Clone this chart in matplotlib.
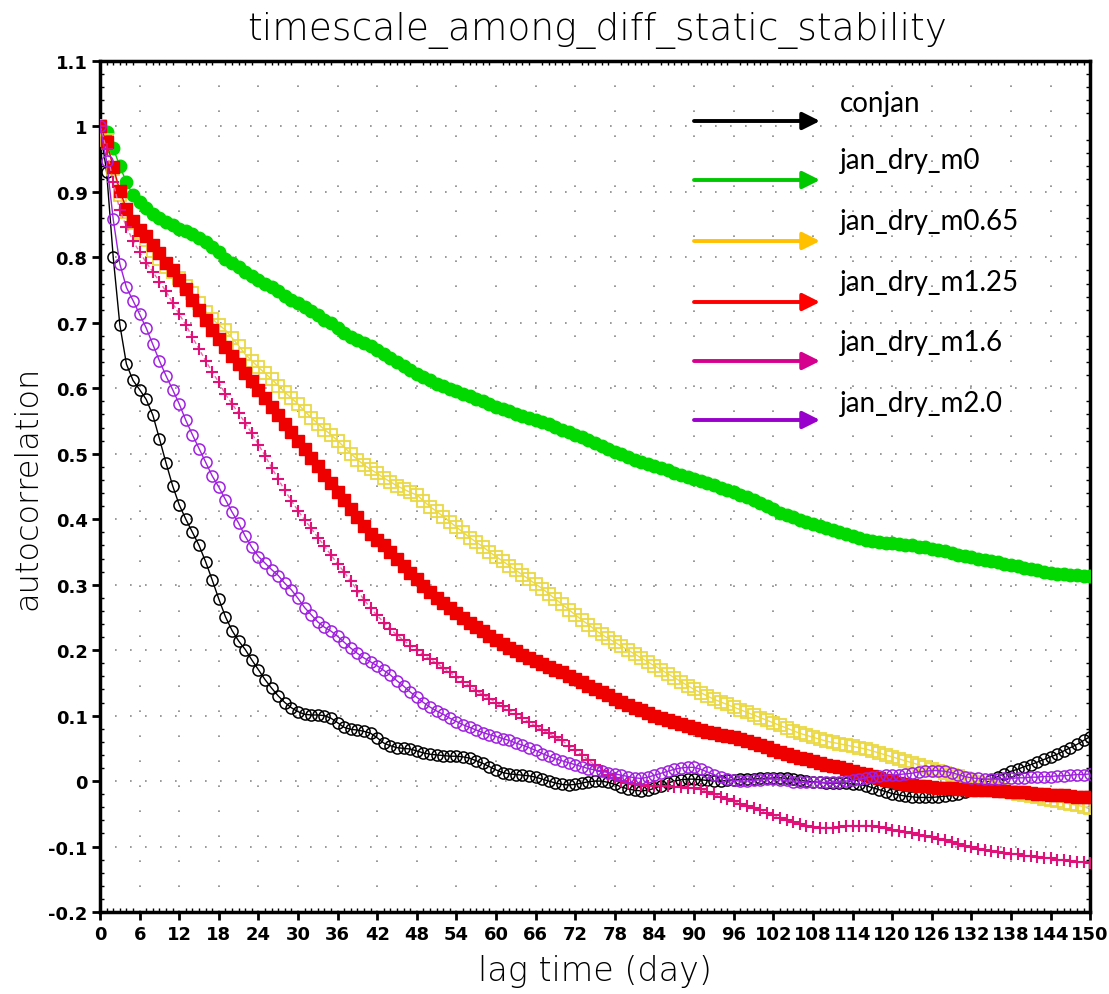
import matplotlib
matplotlib.use("Agg")
import matplotlib.pyplot as plt
import numpy as np

# lag time (day) 0..150
days = list(range(151))

conjan = [1.000, 0.930, 0.800, 0.697, 0.637, 0.612, 0.598, 0.583, 0.559, 0.523,
          0.486, 0.451, 0.422, 0.400, 0.380, 0.360, 0.335, 0.307, 0.278, 0.251,
          0.230, 0.214, 0.201, 0.185, 0.170, 0.155, 0.142, 0.130, 0.120, 0.112,
          0.106, 0.102, 0.101, 0.101, 0.100, 0.096, 0.089, 0.082, 0.079, 0.078,
          0.076, 0.073, 0.066, 0.058, 0.054, 0.051, 0.050, 0.049, 0.046, 0.043,
          0.041, 0.040, 0.039, 0.038, 0.038, 0.037, 0.035, 0.031, 0.027, 0.022,
          0.017, 0.013, 0.011, 0.010, 0.009, 0.008, 0.006, 0.003, 0.000, -0.003,
          -0.005, -0.006, -0.005, -0.003, -0.001, 0.000, 0.000, -0.002, -0.005, -0.009,
          -0.012, -0.014, -0.015, -0.014, -0.011, -0.007, -0.003, 0.000, 0.002, 0.003,
          0.003, 0.002, 0.001, 0.000, 0.000, 0.001, 0.002, 0.003, 0.003, 0.003,
          0.004, 0.004, 0.005, 0.005, 0.004, 0.003, 0.001, 0.000, -0.001, -0.002,
          -0.003, -0.003, -0.003, -0.003, -0.004, -0.005, -0.007, -0.010, -0.013, -0.016,
          -0.019, -0.021, -0.023, -0.024, -0.025, -0.025, -0.025, -0.024, -0.023, -0.022,
          -0.020, -0.017, -0.013, -0.008, -0.003, 0.002, 0.007, 0.011, 0.015, 0.018,
          0.022, 0.025, 0.029, 0.033, 0.037, 0.041, 0.046, 0.051, 0.056, 0.062,
          0.068]

jan_dry_m0 = [1.000, 0.992, 0.967, 0.939, 0.915, 0.895, 0.884, 0.875, 0.866, 0.860,
              0.854, 0.849, 0.844, 0.841, 0.836, 0.829, 0.823, 0.816, 0.808, 0.798,
              0.791, 0.785, 0.778, 0.772, 0.766, 0.760, 0.754, 0.748, 0.741, 0.735,
              0.730, 0.724, 0.718, 0.712, 0.705, 0.699, 0.692, 0.685, 0.679, 0.674,
              0.669, 0.664, 0.659, 0.652, 0.646, 0.640, 0.634, 0.628, 0.622, 0.617,
              0.612, 0.607, 0.603, 0.599, 0.596, 0.592, 0.588, 0.584, 0.580, 0.576,
              0.572, 0.568, 0.565, 0.561, 0.558, 0.555, 0.552, 0.549, 0.545, 0.541,
              0.537, 0.533, 0.529, 0.525, 0.521, 0.516, 0.512, 0.507, 0.503, 0.499,
              0.495, 0.491, 0.488, 0.484, 0.481, 0.478, 0.475, 0.471, 0.468, 0.465,
              0.462, 0.459, 0.455, 0.452, 0.448, 0.444, 0.441, 0.437, 0.434, 0.430,
              0.425, 0.420, 0.415, 0.410, 0.407, 0.403, 0.399, 0.396, 0.393, 0.390,
              0.387, 0.384, 0.381, 0.378, 0.375, 0.372, 0.369, 0.367, 0.365, 0.364,
              0.363, 0.362, 0.361, 0.360, 0.358, 0.357, 0.355, 0.353, 0.351, 0.348,
              0.346, 0.344, 0.342, 0.340, 0.338, 0.336, 0.334, 0.332, 0.330, 0.328,
              0.326, 0.324, 0.322, 0.320, 0.318, 0.317, 0.316, 0.315, 0.315, 0.314,
              0.313]

jan_dry_m065 = [1.000, 0.980, 0.935, 0.895, 0.869, 0.852, 0.838, 0.826, 0.810, 0.797,
                0.786, 0.778, 0.768, 0.757, 0.745, 0.730, 0.717, 0.706, 0.697, 0.689,
                0.677, 0.665, 0.652, 0.642, 0.632, 0.623, 0.614, 0.604, 0.594, 0.585,
                0.576, 0.565, 0.555, 0.546, 0.537, 0.529, 0.520, 0.510, 0.500, 0.491,
                0.483, 0.476, 0.470, 0.463, 0.457, 0.451, 0.446, 0.441, 0.437, 0.428,
                0.419, 0.412, 0.404, 0.396, 0.388, 0.380, 0.372, 0.365, 0.358, 0.350,
                0.343, 0.336, 0.329, 0.322, 0.315, 0.308, 0.301, 0.294, 0.286, 0.278,
                0.270, 0.262, 0.254, 0.246, 0.239, 0.231, 0.224, 0.218, 0.212, 0.206,
                0.200, 0.194, 0.188, 0.182, 0.176, 0.170, 0.164, 0.158, 0.152, 0.146,
                0.140, 0.135, 0.130, 0.125, 0.121, 0.117, 0.113, 0.109, 0.105, 0.101,
                0.097, 0.093, 0.089, 0.085, 0.081, 0.077, 0.073, 0.070, 0.067, 0.064,
                0.061, 0.059, 0.057, 0.055, 0.053, 0.051, 0.049, 0.046, 0.043, 0.040,
                0.037, 0.034, 0.031, 0.028, 0.025, 0.022, 0.019, 0.016, 0.013, 0.010,
                0.008, 0.005, 0.002, -0.001, -0.004, -0.007, -0.010, -0.013, -0.016, -0.019,
                -0.021, -0.023, -0.025, -0.027, -0.029, -0.031, -0.033, -0.035, -0.037, -0.039,
                -0.041]

jan_dry_m125 = [1.000, 0.976, 0.938, 0.902, 0.874, 0.856, 0.842, 0.832, 0.819, 0.807,
                0.792, 0.780, 0.765, 0.751, 0.735, 0.720, 0.705, 0.689, 0.676, 0.663,
                0.650, 0.637, 0.624, 0.611, 0.598, 0.585, 0.572, 0.559, 0.546, 0.533,
                0.520, 0.507, 0.494, 0.481, 0.468, 0.455, 0.442, 0.429, 0.416, 0.403,
                0.390, 0.378, 0.369, 0.360, 0.350, 0.340, 0.329, 0.318, 0.308, 0.298,
                0.289, 0.280, 0.272, 0.264, 0.256, 0.249, 0.242, 0.235, 0.229, 0.222,
                0.216, 0.210, 0.204, 0.198, 0.193, 0.188, 0.183, 0.179, 0.175, 0.170,
                0.166, 0.161, 0.156, 0.151, 0.146, 0.141, 0.136, 0.131, 0.126, 0.121,
                0.116, 0.112, 0.108, 0.104, 0.100, 0.096, 0.093, 0.090, 0.087, 0.084,
                0.081, 0.078, 0.075, 0.073, 0.071, 0.069, 0.067, 0.064, 0.061, 0.058,
                0.055, 0.052, 0.048, 0.045, 0.042, 0.039, 0.036, 0.033, 0.030, 0.028,
                0.025, 0.023, 0.021, 0.019, 0.016, 0.013, 0.011, 0.008, 0.005, 0.002,
                0.000, -0.003, -0.005, -0.006, -0.007, -0.008, -0.009, -0.010, -0.011, -0.011,
                -0.012, -0.012, -0.013, -0.013, -0.014, -0.014, -0.015, -0.015, -0.016, -0.017,
                -0.017, -0.018, -0.019, -0.020, -0.021, -0.022, -0.022, -0.023, -0.024, -0.025,
                -0.025]

jan_dry_m16 = [1.000, 0.965, 0.915, 0.872, 0.847, 0.825, 0.808, 0.792, 0.778, 0.763,
               0.748, 0.730, 0.713, 0.697, 0.678, 0.660, 0.642, 0.625, 0.609, 0.591,
               0.576, 0.562, 0.547, 0.531, 0.514, 0.497, 0.479, 0.461, 0.444, 0.428,
               0.413, 0.399, 0.386, 0.372, 0.359, 0.345, 0.332, 0.319, 0.305, 0.291,
               0.277, 0.264, 0.253, 0.242, 0.232, 0.223, 0.215, 0.207, 0.200, 0.193,
               0.186, 0.180, 0.173, 0.166, 0.159, 0.152, 0.145, 0.138, 0.132, 0.126,
               0.120, 0.114, 0.108, 0.102, 0.096, 0.090, 0.084, 0.078, 0.073, 0.067,
               0.062, 0.054, 0.047, 0.040, 0.032, 0.024, 0.016, 0.009, 0.004, 0.000,
               -0.003, -0.005, -0.006, -0.007, -0.007, -0.008, -0.008, -0.009, -0.009, -0.010,
               -0.010, -0.012, -0.016, -0.020, -0.024, -0.027, -0.031, -0.035, -0.038, -0.041,
               -0.044, -0.048, -0.052, -0.056, -0.059, -0.062, -0.065, -0.068, -0.070, -0.071,
               -0.071, -0.071, -0.070, -0.069, -0.069, -0.068, -0.068, -0.069, -0.070, -0.072,
               -0.074, -0.076, -0.078, -0.080, -0.082, -0.084, -0.086, -0.088, -0.090, -0.093,
               -0.096, -0.099, -0.101, -0.103, -0.105, -0.107, -0.108, -0.110, -0.111, -0.112,
               -0.114, -0.115, -0.116, -0.117, -0.118, -0.120, -0.121, -0.122, -0.123, -0.124,
               -0.125]

jan_dry_m20 = [1.000, 0.947, 0.858, 0.790, 0.754, 0.734, 0.713, 0.692, 0.667, 0.642,
               0.619, 0.598, 0.576, 0.551, 0.529, 0.508, 0.487, 0.466, 0.449, 0.430,
               0.411, 0.394, 0.374, 0.357, 0.343, 0.333, 0.323, 0.314, 0.302, 0.292,
               0.279, 0.265, 0.254, 0.243, 0.235, 0.229, 0.221, 0.212, 0.203, 0.195,
               0.188, 0.182, 0.176, 0.169, 0.162, 0.153, 0.145, 0.136, 0.128, 0.120,
               0.113, 0.107, 0.102, 0.096, 0.091, 0.086, 0.082, 0.078, 0.074, 0.071,
               0.068, 0.065, 0.062, 0.058, 0.055, 0.051, 0.047, 0.042, 0.038, 0.034,
               0.031, 0.028, 0.025, 0.022, 0.019, 0.017, 0.015, 0.013, 0.011, 0.009,
               0.007, 0.005, 0.004, 0.006, 0.009, 0.012, 0.015, 0.018, 0.020, 0.021,
               0.021, 0.018, 0.014, 0.010, 0.006, 0.003, 0.001, 0.000, 0.000, 0.001,
               0.002, 0.003, 0.003, 0.002, 0.001, -0.001, -0.002, -0.002, -0.002, -0.002,
               -0.002, -0.002, -0.001, 0.000, 0.001, 0.003, 0.005, 0.007, 0.008, 0.009,
               0.009, 0.010, 0.011, 0.012, 0.014, 0.015, 0.016, 0.016, 0.015, 0.013,
               0.010, 0.007, 0.005, 0.004, 0.003, 0.003, 0.003, 0.004, 0.004, 0.005,
               0.005, 0.006, 0.006, 0.007, 0.007, 0.008, 0.008, 0.009, 0.010, 0.010,
               0.011]

labels = ["conjan", "jan_dry_m0", "jan_dry_m0.65", "jan_dry_m1.25", "jan_dry_m1.6", "jan_dry_m2.0"]
legend_colors = ["#000000", "#00C800", "#FFC000", "#FF0000", "#D6008F", "#9900CC"]

fig = plt.figure(figsize=(11.09, 9.95), dpi=100)
ax = fig.add_axes([0.0902, 0.0824, 0.8928, 0.8553])

# series: marker style per experiment
ax.plot(days, conjan, color="black", lw=1.0, marker="o", ms=8, mfc="none", mec="black", mew=1.1, zorder=3)
ax.plot(days, jan_dry_m0, color="#00D000", lw=1.0, marker="o", ms=9, mfc="#00D800", mec="#00D800", zorder=4)
ax.plot(days, jan_dry_m065, color="#EBD842", lw=1.0, marker="s", ms=9, mfc="none", mec="#EBD842", mew=1.3, zorder=5)
ax.plot(days, jan_dry_m125, color="#EE0000", lw=1.0, marker="s", ms=8.5, mfc="#EE0000", mec="#EE0000", zorder=6)
ax.plot(days, jan_dry_m16, color="#EE6FA8", lw=1.0, ls=(0, (3, 2)), marker="+", ms=8, mec="#E0127A", mew=1.5, zorder=7)
ax.plot(days, jan_dry_m20, color="#A020E0", lw=1.0, marker="o", ms=8, mfc="none", mec="#A020E0", mew=1.1, zorder=8)

ax.set_xlim(0, 150)
ax.set_ylim(-0.2, 1.1)
ax.set_xticks(range(0, 151, 6))
ax.set_xticks(range(0, 151, 1), minor=True)
yt = np.round(np.arange(-0.2, 1.101, 0.1), 1)
ax.set_yticks(yt)
ax.set_yticklabels(["%g" % v for v in yt])
ax.set_yticks(np.arange(-0.2, 1.1001, 0.02), minor=True)

tick_font = ["Liberation Sans Narrow", "DejaVu Sans"]
for lab in ax.get_xticklabels() + ax.get_yticklabels():
    lab.set_family(tick_font)
    lab.set_fontweight("bold")
    lab.set_fontsize(13)

ax.tick_params(which="major", direction="out", length=6, width=2, pad=3)
ax.tick_params(which="minor", direction="in", length=3, width=1, top=True, right=True)
ax.tick_params(which="major", top=False, right=False)

for s in ax.spines.values():
    s.set_linewidth(2.5)

ax.grid(True, which="major", axis="y", color="#888888", lw=1.2, ls=(0, (1, 8)))
ax.grid(True, which="major", axis="x", color="#888888", lw=1.2, ls=(0, (1, 14)))

ax.set_xlabel("lag time (day)", fontsize=24, family="DejaVu Sans", fontweight="light", labelpad=8)
ax.set_ylabel("autocorrelation", fontsize=23, family="DejaVu Sans", fontweight="light", labelpad=4)
fig.text(0.538, 0.969, "timescale_among_diff_static_stability", ha="center", va="center",
         fontsize=27, family="DejaVu Sans", fontweight="light")

# legend drawn as arrows + text (figure pixel positions)
W, H = 1109.0, 995.0
arrow_y = [122, 181, 242, 303, 362, 421]
text_y = [104, 161, 222, 283, 343, 404]
for lab, c, ay, ty in zip(labels, legend_colors, arrow_y, text_y):
    ax.annotate("", xy=(820 / W, 1 - ay / H), xytext=(694 / W, 1 - ay / H),
                xycoords="figure fraction", textcoords="figure fraction",
                arrowprops=dict(arrowstyle="-|>", color=c, lw=2.8, mutation_scale=26,
                                shrinkA=0, shrinkB=0), zorder=10)
    fig.text(840 / W, 1 - ty / H, lab, ha="left", va="center", fontsize=20,
             family=["Lato", "DejaVu Sans"], color="black")

fig.savefig("out.png", dpi=100)
